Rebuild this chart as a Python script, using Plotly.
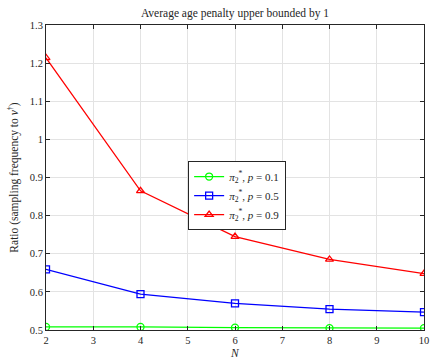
import plotly.graph_objects as go

N = [2, 4, 6, 8, 10]
ratio_p01 = [0.508, 0.508, 0.506, 0.505, 0.505]
ratio_p05 = [0.659, 0.594, 0.570, 0.555, 0.547]
ratio_p09 = [1.214, 0.865, 0.745, 0.685, 0.648]

series = [
    ("<i>π</i><sub>2</sub><sup>*</sup>, <i>p</i> = 0.1", ratio_p01, "#00ff00", "circle-open"),
    ("<i>π</i><sub>2</sub><sup>*</sup>, <i>p</i> = 0.5", ratio_p05, "#0000ff", "square-open"),
    ("<i>π</i><sub>2</sub><sup>*</sup>, <i>p</i> = 0.9", ratio_p09, "#ff0000", "triangle-up-open"),
]

fig = go.Figure()
for name, y, c, sym in series:
    fig.add_trace(go.Scatter(
        x=N, y=y, name=name, mode="lines+markers",
        line=dict(color=c, width=1.3),
        marker=dict(symbol=sym, size=7, color=c, line=dict(color=c, width=1.3)),
    ))

serif = "Liberation Serif"
axis_common = dict(
    showgrid=True, gridcolor="#e3e3e3", gridwidth=1,
    showline=True, linecolor="#262626", linewidth=1, mirror="ticks",
    ticks="inside", ticklen=4, tickcolor="#262626", automargin=False,
    zeroline=False, tickfont=dict(family=serif, size=10.5, color="#262626"),
)
fig.update_layout(
    width=430, height=360,
    margin=dict(l=46, r=6, t=25, b=30),
    paper_bgcolor="white", plot_bgcolor="white",
    font=dict(family=serif),
    title=dict(text="Average age penalty upper bounded by 1", xref="paper", x=0.5, xanchor="center",
               y=0.965, yanchor="middle", font=dict(family=serif, size=11.5, color="#262626")),
    xaxis=dict(range=[2, 10], dtick=1, ticklabelstandoff=0, **axis_common),
    yaxis=dict(range=[0.5, 1.3], dtick=0.1, tickformat="~g",
               title=dict(text="Ratio (sampling frequency to <i>ν</i><sup>†</sup>)", standoff=8,
                          font=dict(family=serif, size=11.5, color="#262626")),
               **axis_common),
    legend=dict(x=0.376, y=0.554, xanchor="left", yanchor="top",
                bgcolor="white", bordercolor="#262626", borderwidth=1,
                font=dict(family=serif, size=11, color="#262626"),
                tracegroupgap=0, itemwidth=30),
    showlegend=True,
    annotations=[dict(text="<i>N</i>", xref="paper", yref="paper", x=0.5, y=0,
                      xanchor="center", yanchor="bottom", yshift=-31, showarrow=False,
                      font=dict(family=serif, size=11.5, color="#262626"))],
)

fig.write_html("out.html")
